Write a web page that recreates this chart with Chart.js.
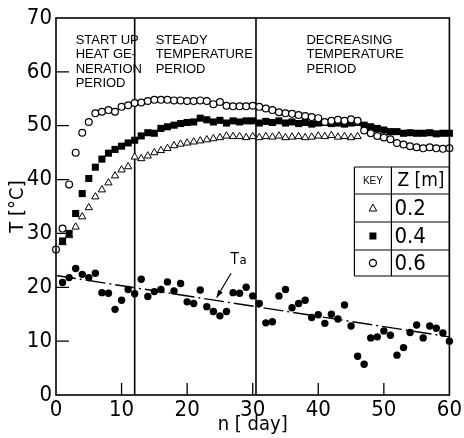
<!DOCTYPE html>
<html>
<head>
<meta charset="utf-8">
<script src="https://cdn.jsdelivr.net/npm/chart.js@4.4.1/dist/chart.umd.min.js"></script>
<style>
  html, body { margin: 0; padding: 0; background: #fff; }
</style>
</head>
<body>
<canvas id="chart" width="464" height="438"></canvas>
<script>
// days of the measurement
const days = [0, 1, 2, 3, 4, 5, 6, 7, 8, 9, 10, 11, 12, 13, 14, 15, 16, 17, 18, 19, 20,
    21, 22, 23, 24, 25, 26, 27, 28, 29, 30, 31, 32, 33, 34, 35, 36, 37, 38, 39, 40,
    41, 42, 43, 44, 45, 46, 47, 48, 49, 50, 51, 52, 53, 54, 55, 56, 57, 58, 59, 60];

// Z = 0.6 m (open circles), day 0..60
const t06 = [27.0, 30.9, 39.1, 45.0, 48.7, 50.7, 52.3, 52.6, 52.9, 52.6, 53.5,
    53.8, 54.2, 54.3, 54.6, 54.8, 54.8, 54.8, 54.7, 54.7, 54.6,
    54.6, 54.7, 54.6, 54.0, 54.4, 53.7, 53.6, 53.6, 53.6, 53.7,
    53.5, 53.2, 52.9, 52.5, 52.3, 52.2, 52.0, 51.8, 51.6, 51.4,
    50.7, 50.9, 51.1, 50.9, 51.2, 50.9, 49.1, 48.6, 48.1, 47.8,
    47.5, 46.8, 46.5, 46.2, 46.0, 45.8, 46.0, 45.8, 45.7, 45.8];

// Z = 0.4 m (filled squares), day 1..60
const t04 = [28.6, 30.0, 33.7, 37.4, 40.2, 42.3, 43.8, 44.9, 45.6, 46.2,
    46.8, 47.3, 48.1, 48.7, 48.6, 49.5, 49.8, 50.1, 50.4, 50.6,
    50.7, 51.4, 51.1, 50.7, 51.0, 50.5, 50.9, 50.7, 50.9, 50.9,
    50.5, 50.8, 50.6, 50.9, 50.5, 50.7, 50.4, 50.6, 50.3, 50.5,
    50.6, 50.4, 50.5, 50.3, 50.5, 50.6, 50.1, 49.8, 49.5, 49.2,
    48.9, 48.9, 48.6, 48.7, 48.6, 48.6, 48.7, 48.5, 48.6, 48.6];

// Z = 0.2 m (open triangles), day 1..46
const t02 = [28.3, 29.6, 31.2, 33.1, 34.8, 36.8, 38.1, 39.4, 40.7, 41.8,
    42.4, 44.2, 43.9, 44.4, 45.0, 45.4, 45.8, 46.3, 46.6, 46.8,
    47.0, 47.2, 47.4, 47.6, 47.8, 48.1, 48.0, 48.0, 47.8, 48.0,
    47.8, 48.0, 47.9, 48.1, 47.8, 47.9, 48.0, 47.8, 47.9, 48.1,
    48.0, 48.2, 47.9, 48.0, 47.8, 48.0];

// ambient temperature Ta, day 1..60
const ta = [20.9, 21.8, 23.5, 22.4, 21.8, 22.6, 19.0, 18.9, 15.9, 17.6,
    19.6, 18.8, 21.5, 18.3, 19.2, 19.6, 21.0, 19.3, 20.7, 17.3,
    17.0, 19.5, 16.4, 15.5, 14.7, 15.5, 19.0, 18.9, 20.0, 18.4,
    17.0, 13.4, 13.6, 18.4, 19.6, 16.2, 17.0, 17.6, 14.4, 14.9,
    13.3, 15.0, 14.1, 16.7, 12.8, 7.2, 5.7, 10.6, 10.8, 11.9,
    11.1, 7.4, 8.8, 11.6, 13.0, 10.6, 12.8, 12.4, 11.5, 10.0];

// trend line of Ta
const taTrendDays = [0, 60];
const taTrend = [22.2, 10.8];

// period boundaries and labels
const periodBounds = [12, 30.5];
const periodLabels = [
    ['START UP', 'HEAT GE-', 'NERATION', 'PERIOD'],
    ['STEADY', 'TEMPERATURE', 'PERIOD'],
    ['DECREASING', 'TEMPERATURE', 'PERIOD']
];
const zLabels = ['0.2', '0.4', '0.6'];

const xTicks = [10, 20, 30, 40, 50];
const yTicks = [10, 20, 30, 40, 50, 60];

const NARROW = "'Liberation Sans Narrow', 'DejaVu Sans Condensed', sans-serif";
const PLAIN = "'Liberation Sans', 'DejaVu Sans', sans-serif";

function pts(xs, ys) {
    return ys.map((v, i) => ({ x: xs[i], y: v }));
}

// extra drawing: period lines, frame, inside ticks, texts, key table, Ta arrow
const decor = {
    id: 'decor',
    beforeDatasetsDraw(chart) {
        const { ctx, chartArea: a, scales: { x } } = chart;
        ctx.save();
        ctx.strokeStyle = '#000';
        ctx.lineWidth = 1.6;
        periodBounds.forEach(d => {
            const px = x.getPixelForValue(d);
            ctx.beginPath();
            ctx.moveTo(px, a.top);
            ctx.lineTo(px, a.bottom);
            ctx.stroke();
        });
        ctx.restore();
    },
    afterDatasetsDraw(chart) {
        const { ctx, chartArea: a, scales: { x, y } } = chart;
        ctx.save();
        ctx.strokeStyle = '#000';
        ctx.fillStyle = '#000';

        // frame
        ctx.lineWidth = 1.6;
        ctx.strokeRect(a.left, a.top, a.right - a.left, a.bottom - a.top);

        // inward ticks
        ctx.lineWidth = 1.3;
        ctx.beginPath();
        yTicks.forEach(v => {
            const py = y.getPixelForValue(v);
            ctx.moveTo(a.left, py);
            ctx.lineTo(a.left + 13, py);
        });
        xTicks.forEach(v => {
            const px = x.getPixelForValue(v);
            ctx.moveTo(px, a.bottom);
            ctx.lineTo(px, a.bottom - 12);
        });
        ctx.stroke();

        // period texts
        ctx.font = '13px ' + PLAIN;
        ctx.textBaseline = 'middle';
        ctx.textAlign = 'left';
        const startX = [3, 15.2, 38.2];
        periodLabels.forEach((lines, i) => {
            const px = x.getPixelForValue(startX[i]);
            lines.forEach((s, j) => ctx.fillText(s, px, a.top + 22 + j * 14.5));
        });

        // key table
        const L = a.right - 95, M = a.right - 58, R = a.right;
        const rows = [167, 194, 222, 250, 276];
        ctx.lineWidth = 1.2;
        ctx.beginPath();
        rows.forEach(r => { ctx.moveTo(L, r); ctx.lineTo(R, r); });
        [L, M, R].forEach(c => { ctx.moveTo(c, rows[0]); ctx.lineTo(c, rows[4]); });
        ctx.stroke();
        ctx.textAlign = 'center';
        ctx.font = '10px ' + PLAIN;
        ctx.fillText('KEY', (L + M) / 2, (rows[0] + rows[1]) / 2 + 1);
        ctx.font = '19px ' + NARROW;
        ctx.textAlign = 'left';
        ctx.fillText('Z [m]', M + 6, (rows[0] + rows[1]) / 2 + 1);
        ctx.font = '22px ' + NARROW;
        zLabels.forEach((s, i) => ctx.fillText(s, M + 3, (rows[i + 1] + rows[i + 2]) / 2 + 1));
        const cx = (L + M) / 2;
        // triangle
        let cy = (rows[1] + rows[2]) / 2;
        ctx.lineWidth = 1;
        ctx.beginPath();
        ctx.moveTo(cx, cy - 4);
        ctx.lineTo(cx + 3.8, cy + 3);
        ctx.lineTo(cx - 3.8, cy + 3);
        ctx.closePath();
        ctx.stroke();
        // square
        cy = (rows[2] + rows[3]) / 2;
        ctx.fillRect(cx - 3.5, cy - 3.5, 7, 7);
        // circle
        cy = (rows[3] + rows[4]) / 2;
        ctx.lineWidth = 1.3;
        ctx.beginPath();
        ctx.arc(cx, cy, 3.5, 0, Math.PI * 2);
        ctx.stroke();

        // Ta label with arrow
        const tx = x.getPixelForValue(26.6), ty = y.getPixelForValue(24.3);
        ctx.font = '15px ' + NARROW;
        ctx.textBaseline = 'alphabetic';
        ctx.fillText('T', tx, ty);
        ctx.font = '13px ' + NARROW;
        ctx.fillText('a', tx + 9, ty);
        const x1 = x.getPixelForValue(26.7), y1 = y.getPixelForValue(22.6);
        const x2 = x.getPixelForValue(24.5), y2 = y.getPixelForValue(18.1);
        ctx.lineWidth = 1.2;
        ctx.beginPath();
        ctx.moveTo(x1, y1);
        ctx.lineTo(x2, y2);
        ctx.stroke();
        const ang = Math.atan2(y2 - y1, x2 - x1);
        ctx.beginPath();
        ctx.moveTo(x2, y2);
        ctx.lineTo(x2 - 8 * Math.cos(ang - 0.35), y2 - 8 * Math.sin(ang - 0.35));
        ctx.lineTo(x2 - 8 * Math.cos(ang + 0.35), y2 - 8 * Math.sin(ang + 0.35));
        ctx.closePath();
        ctx.fill();

        ctx.restore();
    }
};

new Chart(document.getElementById('chart'), {
    type: 'scatter',
    data: {
        datasets: [
            {
                label: '0.6',
                data: pts(days, t06),
                pointStyle: 'circle',
                pointRadius: 3.4,
                backgroundColor: '#fff',
                borderColor: '#000',
                borderWidth: 1.2,
                clip: false,
                order: 1
            },
            {
                label: '0.4',
                data: pts(days.slice(1), t04),
                pointStyle: 'rect',
                pointRadius: 5,
                backgroundColor: '#000',
                borderColor: '#000',
                borderWidth: 0,
                clip: false,
                order: 2
            },
            {
                label: '0.2',
                data: pts(days.slice(1), t02),
                pointStyle: 'triangle',
                pointRadius: 4.2,
                backgroundColor: '#fff',
                borderColor: '#000',
                borderWidth: 1,
                clip: false,
                order: 3
            },
            {
                label: 'Ta',
                data: pts(days.slice(1), ta),
                pointStyle: 'circle',
                pointRadius: 3.7,
                backgroundColor: '#000',
                borderColor: '#000',
                borderWidth: 0,
                clip: false,
                order: 4
            },
            {
                label: 'Ta trend',
                type: 'line',
                data: pts(taTrendDays, taTrend),
                showLine: true,
                pointRadius: 0,
                borderColor: '#000',
                borderWidth: 1.4,
                borderDash: [20, 4, 2, 4],
                fill: false,
                order: 5
            }
        ]
    },
    options: {
        responsive: false,
        animation: false,
        layout: { padding: { top: 18, right: 9, left: 0, bottom: 0 } },
        plugins: {
            legend: { display: false },
            tooltip: { enabled: false }
        },
        scales: {
            x: {
                type: 'linear',
                min: 0,
                max: 60,
                afterFit: s => { s.height = 43; },
                ticks: { stepSize: 10, padding: 2, color: '#000', font: { family: NARROW, size: 22 } },
                grid: { display: false, drawTicks: false },
                border: { display: false },
                title: {
                    display: true,
                    text: 'n [ day]',
                    color: '#000',
                    font: { family: NARROW, size: 20 },
                    padding: { top: 0, bottom: 1 }
                }
            },
            y: {
                min: 0,
                max: 70,
                afterFit: s => { s.width = 56; },
                ticks: { stepSize: 10, padding: 4, color: '#000', font: { family: NARROW, size: 22 } },
                grid: { display: false, drawTicks: false },
                border: { display: false },
                title: {
                    display: true,
                    text: 'T [°C]',
                    color: '#000',
                    font: { family: NARROW, size: 20 },
                    padding: { top: 6, bottom: 0 }
                }
            }
        }
    },
    plugins: [decor]
});
</script>
</body>
</html>
